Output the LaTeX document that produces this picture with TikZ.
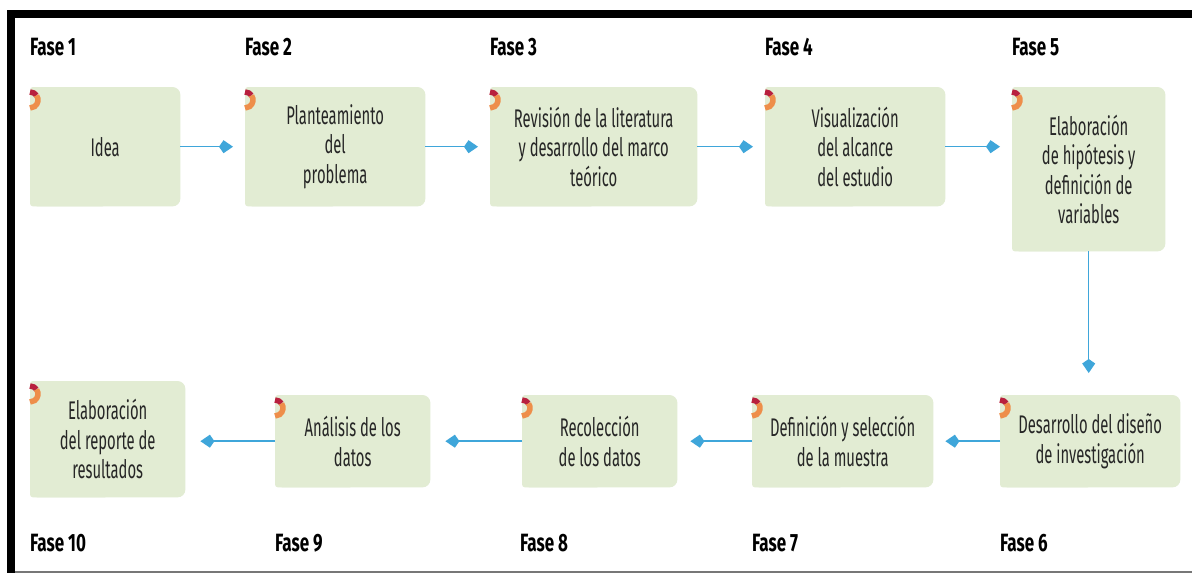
\documentclass[tikz,border=0pt]{standalone}
\usepackage{fontspec}
\usetikzlibrary{arrows.meta,backgrounds,calc}
\newfontfamily\boxfont[FakeStretch=0.58]{Fira Sans}
\newfontfamily\fasefont[FakeStretch=0.68]{Fira Sans}
\definecolor{boxgreen}{HTML}{E2ECD3}
\definecolor{txt}{HTML}{262626}
\definecolor{arrblue}{HTML}{3FA6DA}
\definecolor{decred}{HTML}{B8203E}
\definecolor{decorange}{HTML}{EE8E4A}
\definecolor{framegray}{HTML}{777777}
\tikzset{
  box/.style={inner sep=0, align=center, text=txt, anchor=north west,
    font=\boxfont\fontsize{25.5}{29.5}\selectfont},
  fase/.style={inner sep=0, anchor=base west, text=black,
    font=\fasefont\bfseries\fontsize{25}{30}\selectfont},
  arr/.style={draw=arrblue, line width=1.5, -{Kite[length=14pt,width=13pt,inset=4.5pt]}},
}
\newcommand\greenbox[1]{%
  \fill[boxgreen, rounded corners=8] (#1.north west) rectangle (#1.south east);
  \fill[boxgreen, rounded corners=3] (#1.north west) rectangle (#1.south);
  \draw[decred, line width=5.5] ($(#1.north west)+(0,13)$) ++(-90:8) arc[start angle=-90, end angle=-35, radius=8];
  \draw[decorange, line width=5.5] ($(#1.north west)+(0,13)$) ++(-35:8) arc[start angle=-35, end angle=90, radius=8];
}
\begin{document}
\begin{tikzpicture}[x=1pt, y=-1pt]
\useasboundingbox (0,0) rectangle (1192,573);
% top row
\node[box, minimum width=150, minimum height=119] (b1) at (30,87) {Idea};
\node[box, minimum width=180, minimum height=119] (b2) at (245,87) {Planteamiento\\del\\problema};
\node[box, minimum width=207, minimum height=119] (b3) at (490,87) {Revisión de la literatura\\y desarrollo del marco\\teórico};
\node[box, minimum width=180, minimum height=119] (b4) at (765,87) {Visualización\\del alcance\\del estudio};
\node[box, minimum width=153, minimum height=164] (b5) at (1012,87) {Elaboración\\de hipótesis y\\definición de\\variables};
% bottom row
\node[box, minimum width=180, minimum height=92] (b6) at (1000,395) {Desarrollo del diseño\\de investigación};
\node[box, minimum width=181, minimum height=92] (b7) at (752,395) {Definición y selección\\de la muestra};
\node[box, minimum width=155, minimum height=92] (b8) at (522,395) {Recolección\\de los datos};
\node[box, minimum width=155, minimum height=92] (b9) at (275,395) {Análisis de los\\datos};
\node[box, minimum width=155, minimum height=116] (b10) at (30,381) {Elaboración\\del reporte de\\resultados};
% phase labels
\node[fase] (f1) at (30,55) {Fase 1};
\node[fase] (f2) at (245,55) {Fase 2};
\node[fase] (f3) at (490,55) {Fase 3};
\node[fase] (f4) at (765,55) {Fase 4};
\node[fase] (f5) at (1012,55) {Fase 5};
\node[fase] (f10) at (30,551) {Fase 10};
\node[fase] (f9) at (275,551) {Fase 9};
\node[fase] (f8) at (520,551) {Fase 8};
\node[fase] (f7) at (752,551) {Fase 7};
\node[fase] (f6) at (1000,551) {Fase 6};
% arrows
\draw[arr] (b1.east) -- ($(b1.east -| b2.west)+(-12,0)$);
\draw[arr] (b2.east) -- ($(b2.east -| b3.west)+(-12,0)$);
\draw[arr] (b3.east) -- ($(b3.east -| b4.west)+(-12,0)$);
\draw[arr] (b4.east) -- ($(b4.east -| b5.west)+(-12,0)$);
\draw[arr] (b5.south) -- ($(b5.south |- b6.north)+(0,-22)$);
\draw[arr] (b6.west) -- ($(b6.west -| b7.east)+(12,0)$);
\draw[arr] (b7.west) -- ($(b7.west -| b8.east)+(13,0)$);
\draw[arr] (b8.west) -- ($(b8.west -| b9.east)+(15,0)$);
\draw[arr] (b9.west) -- ($(b9.west -| b10.east)+(15,0)$);
\begin{scope}[on background layer]
  \fill[white] (0,0) rectangle (1192,573);
  \fill[black] (7,10) rectangle (1192,18);
  \fill[black] (7,10) rectangle (15,573);
  \draw[framegray, line width=2] (15,571.5) -- (1192,571.5);
  \greenbox{b1}\greenbox{b2}\greenbox{b3}\greenbox{b4}\greenbox{b5}
  \greenbox{b6}\greenbox{b7}\greenbox{b8}\greenbox{b9}\greenbox{b10}
\end{scope}
\end{tikzpicture}
\end{document}
